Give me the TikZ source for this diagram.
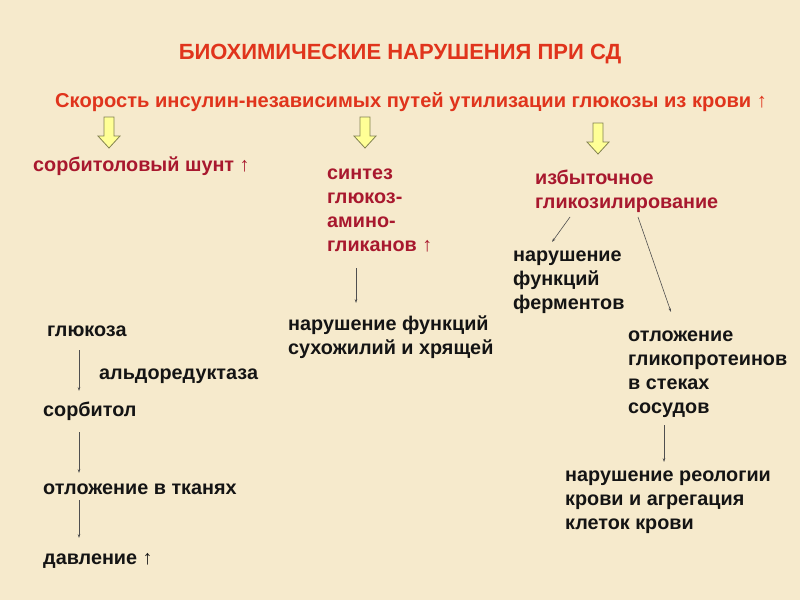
\documentclass[tikz,border=0pt]{standalone}
\usepackage{fontspec}
\setmainfont{Liberation Sans}
\usetikzlibrary{arrows.meta}
\definecolor{bgc}{RGB}{246,234,204}
\definecolor{titlered}{RGB}{224,52,28}
\definecolor{crimson}{RGB}{168,24,46}
\definecolor{yel}{RGB}{255,255,150}
\definecolor{olive}{RGB}{130,130,80}
\definecolor{ink}{RGB}{20,20,20}
\tikzset{
  txt/.style={inner sep=0pt, anchor=base west, align=left, font=\bfseries\fontsize{19.8}{24}\selectfont, text=ink},
  red/.style={txt, text=crimson},
  flow/.style={draw=ink!75, line width=0.6pt, -{Stealth[length=4pt,width=2.6pt]}},
  blockarrow/.pic={\draw[fill=yel, draw=olive, line width=0.8pt, line join=miter]
     (-5,0) -- (-5,19) -- (-11,19) -- (0,31) -- (11,19) -- (5,19) -- (5,0) -- cycle;}
}
\begin{document}
\begin{tikzpicture}[x=1pt,y=-1pt]
\fill[bgc] (0,0) rectangle (800,600);
\useasboundingbox (0,0) rectangle (800,600);

\node[inner sep=0pt, anchor=base, font=\bfseries\fontsize{22}{26}\selectfont, text=titlered] (title) at (400,59) {БИОХИМИЧЕСКИЕ НАРУШЕНИЯ ПРИ СД};
\node[inner sep=0pt, anchor=base west, font=\bfseries\fontsize{20.1}{24}\selectfont, text=titlered] (sub) at (55,107) {Скорость инсулин-независимых путей утилизации глюкозы из крови ↑};

\pic at (109,117) {blockarrow};
\pic at (365,117) {blockarrow};
\pic at (598,123) {blockarrow};

% multi-line nodes: base anchor is the baseline of the last line
\node[red] (sorb) at (33,171) {сорбитоловый шунт ↑};
\node[red] (synth) at (327,251) {синтез\\глюкоз-\\амино-\\гликанов ↑};
\node[red] (glyc) at (535,208) {избыточное\\гликозилирование};

\node[txt] (ferm) at (513,309) {нарушение\\функций\\ферментов};
\node[txt] (glyprot) at (628,413) {отложение\\гликопротеинов\\в стеках\\сосудов};
\node[txt] (rheo) at (565,529) {нарушение реологии\\крови и агрегация\\клеток крови};
\node[txt] (tend) at (288,354) {нарушение функций\\сухожилий и хрящей};

\node[txt] (glu) at (47,336) {глюкоза};
\node[txt] (ald) at (99,379) {альдоредуктаза};
\node[txt] (sorbitol) at (43,416) {сорбитол};
\node[txt] (depo) at (43,494) {отложение в тканях};
\node[txt] (press) at (43,564) {давление ↑};

\coordinate (a1s) at (79,350); \coordinate (a1e) at (79,391);
\coordinate (a2s) at (79,432); \coordinate (a2e) at (79,473);
\coordinate (a3s) at (79,500); \coordinate (a3e) at (79,538);
\draw[flow] (a1s) -- (a1e);
\draw[flow] (a2s) -- (a2e);
\draw[flow] (a3s) -- (a3e);

\coordinate (s1) at (356,268); \coordinate (s2) at (356,303);
\draw[flow] (s1) -- (s2);

\coordinate (g1) at (570,217); \coordinate (g2) at (552,242);
\coordinate (g3) at (638,217); \coordinate (g4) at (671,312);
\draw[flow] (g1) -- (g2);
\draw[flow] (g3) -- (g4);

\coordinate (v1) at (664,425); \coordinate (v2) at (664,462);
\draw[flow] (v1) -- (v2);
\end{tikzpicture}
\end{document}
